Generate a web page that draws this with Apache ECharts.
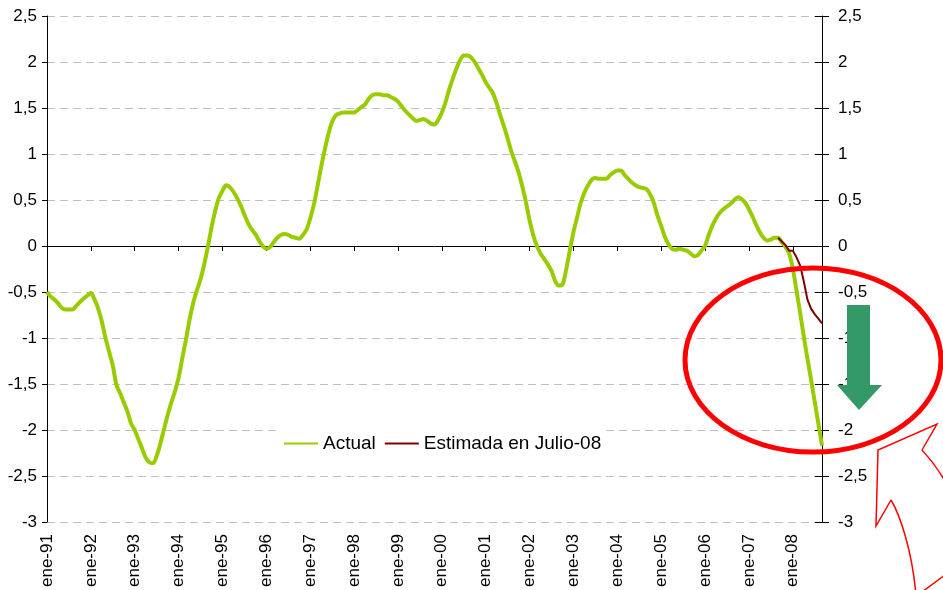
<!DOCTYPE html>
<html>
<head>
<meta charset="utf-8">
<script src="https://cdn.jsdelivr.net/npm/echarts@6/dist/echarts.min.js"></script>
<style>
  html, body { margin: 0; padding: 0; background: #fff; }
  #chart { width: 943px; height: 590px; }
</style>
</head>
<body>
<div id="chart"></div>
<script>
// meses en español, serie mensual desde ene-91
var monthNames = ['ene','feb','mar','abr','may','jun','jul','ago','sep','oct','nov','dic'];
var firstYear = 1991;

// Actual, ene-91 .. sep-08
var actual = [
  -0.50, -0.55, -0.58, -0.62, -0.67, -0.69, -0.69, -0.69, -0.65, -0.61, -0.57, -0.54, // 91
  -0.51, -0.58, -0.68, -0.82, -1.00, -1.15, -1.30, -1.51, -1.60, -1.70, -1.80, -1.93, // 92
  -2.00, -2.10, -2.20, -2.30, -2.35, -2.36, -2.28, -2.15, -1.99, -1.84, -1.70, -1.58, // 93
  -1.43, -1.22, -1.02, -0.80, -0.62, -0.48, -0.36, -0.20, -0.01, 0.20, 0.38, 0.52,    // 94
  0.60, 0.66, 0.64, 0.59, 0.52, 0.44, 0.34, 0.25, 0.18, 0.13, 0.06, 0.00,             // 95
  -0.03, -0.01, 0.04, 0.09, 0.12, 0.13, 0.12, 0.10, 0.09, 0.08, 0.12, 0.18,           // 96
  0.30, 0.45, 0.65, 0.86, 1.05, 1.22, 1.35, 1.42, 1.44, 1.45, 1.45, 1.45,             // 97
  1.45, 1.48, 1.51, 1.54, 1.60, 1.64, 1.65, 1.65, 1.64, 1.64, 1.62, 1.60,             // 98
  1.57, 1.52, 1.47, 1.43, 1.39, 1.36, 1.37, 1.38, 1.36, 1.33, 1.32, 1.37,             // 99
  1.45, 1.56, 1.70, 1.82, 1.93, 2.02, 2.07, 2.07, 2.05, 2.00, 1.93, 1.86,             // 00
  1.78, 1.72, 1.66, 1.55, 1.42, 1.30, 1.17, 1.03, 0.92, 0.80, 0.65, 0.48,             // 01
  0.28, 0.12, 0.00, -0.08, -0.14, -0.20, -0.27, -0.38, -0.43, -0.42, -0.26, -0.05,    // 02
  0.15, 0.31, 0.47, 0.58, 0.66, 0.72, 0.74, 0.73, 0.73, 0.73, 0.77, 0.80,             // 03
  0.82, 0.82, 0.77, 0.73, 0.69, 0.66, 0.64, 0.63, 0.62, 0.56, 0.47, 0.33,             // 04
  0.22, 0.10, 0.02, -0.03, -0.04, -0.03, -0.04, -0.05, -0.08, -0.11, -0.10, -0.05,    // 05
  0.00, 0.12, 0.22, 0.30, 0.36, 0.40, 0.43, 0.46, 0.50, 0.53, 0.51, 0.47,             // 06
  0.40, 0.32, 0.23, 0.15, 0.09, 0.06, 0.07, 0.09, 0.09, 0.04, -0.01, -0.08,           // 07
  -0.24, -0.48, -0.72, -0.98, -1.22, -1.45, -1.69, -1.93, -2.17                       // 08
];

// Estimada en Julio-08, desde sep-07
var estStart = 200;
var estimada = [0.09, 0.05, 0.01, -0.05, -0.05, -0.12, -0.21, -0.38, -0.58, -0.68, -0.74, -0.79, -0.84];

var yTicks = { min: -3, max: 2.5, step: 0.5 };

var categories = [];
for (var i = 0; i < actual.length; i++) {
  var yy = (firstYear + Math.floor(i / 12)) % 100;
  categories.push(monthNames[i % 12] + '-' + (yy < 10 ? '0' + yy : '' + yy));
}
var estSeries = categories.map(function (c, i) {
  return i >= estStart ? estimada[i - estStart] : null;
});

var font = 'Liberation Sans, Arial, sans-serif';
function fmt(v) { return String(v).replace('.', ','); }

var red = { stroke: '#ff0000', lineWidth: 1.5, fill: null };

var chart = echarts.init(document.getElementById('chart'));
chart.setOption({
  animation: false,
  textStyle: { fontFamily: font, color: '#000' },
  grid: { left: 47, right: 121, top: 16, bottom: 66 },
  legend: {
    left: 278, top: 428,
    padding: [6, 5],
    backgroundColor: '#fff',
    itemWidth: 34, itemHeight: 14, itemGap: 8,
    // sin marcador, solo la línea
    itemStyle: { color: 'rgba(0,0,0,0)', borderWidth: 0 },
    textStyle: { fontSize: 19, color: '#000', fontFamily: font },
    data: ['Actual', 'Estimada en Julio-08']
  },
  xAxis: [
    {
      type: 'category', data: categories, boundaryGap: false,
      axisLine: { onZero: true, lineStyle: { color: '#000', width: 1 } },
      axisTick: { show: true, interval: 11, length: 5, lineStyle: { color: '#000' } },
      axisLabel: { show: false },
      splitLine: { show: false }
    },
    {
      type: 'category', data: categories, boundaryGap: false, position: 'bottom',
      axisLine: { show: false, onZero: false },
      axisTick: { show: false },
      axisLabel: { interval: 11, rotate: 90, fontSize: 17, margin: 12, color: '#000', fontFamily: font },
      splitLine: { show: false }
    }
  ],
  yAxis: [
    {
      type: 'value', min: yTicks.min, max: yTicks.max, interval: yTicks.step, position: 'left',
      axisLine: { show: true, lineStyle: { color: '#000' } },
      axisTick: { show: true, length: 5, lineStyle: { color: '#000' } },
      axisLabel: { formatter: fmt, fontSize: 17, margin: 10, color: '#000', fontFamily: font },
      splitLine: { show: true, lineStyle: { color: '#c0c0c0', type: [8, 5], width: 1 } }
    },
    {
      type: 'value', min: yTicks.min, max: yTicks.max, interval: yTicks.step, position: 'right',
      axisLine: { show: true, lineStyle: { color: '#000' } },
      axisTick: { show: true, length: 7, lineStyle: { color: '#000' } },
      axisLabel: { formatter: fmt, fontSize: 17, margin: 16, color: '#000', fontFamily: font },
      splitLine: { show: false }
    },
    {
      type: 'value', min: yTicks.min, max: yTicks.max, interval: yTicks.step, position: 'right',
      axisLine: { show: false },
      axisTick: { show: true, inside: true, length: 7, lineStyle: { color: '#000' } },
      axisLabel: { show: false },
      splitLine: { show: false }
    }
  ],
  series: [
    {
      name: 'Actual', type: 'line', data: actual, symbol: 'none', smooth: 0.3,
      lineStyle: { color: '#99cc00', width: 4 }, itemStyle: { color: '#99cc00' }, z: 3
    },
    {
      name: 'Estimada en Julio-08', type: 'line', data: estSeries, symbol: 'none',
      lineStyle: { color: '#800000', width: 2 }, itemStyle: { color: '#800000' }, z: 4
    }
  ],
  graphic: [
    {
      type: 'ellipse', z: 100,
      shape: { cx: 813, cy: 360, rx: 128, ry: 92 },
      style: { fill: null, stroke: '#ff0000', lineWidth: 5 }
    },
    {
      type: 'polygon', z: 101,
      shape: { points: [[847, 305], [870, 305], [870, 385], [882, 385], [859, 410], [837, 385], [847, 385]] },
      style: { fill: '#339966' }
    },
    // flecha curva (contorno rojo)
    {
      type: 'bezierCurve', z: 100,
      shape: { x1: 916, y1: 595, cpx1: 912, cpy1: 550, cpx2: 900, cpy2: 515, x2: 891, y2: 500 },
      style: red
    },
    {
      type: 'polyline', z: 100,
      shape: { points: [[891, 500], [876, 526], [878, 450], [937, 424], [922, 450]] },
      style: red
    },
    {
      type: 'bezierCurve', z: 100,
      shape: { x1: 922, y1: 450, cpx1: 950, cpy1: 480, cpx2: 972, cpy2: 530, x2: 965, y2: 560 },
      style: red
    },
    {
      type: 'line', z: 100,
      shape: { x1: 965, y1: 560, x2: 918, y2: 595 },
      style: red
    }
  ]
});
</script>
</body>
</html>
